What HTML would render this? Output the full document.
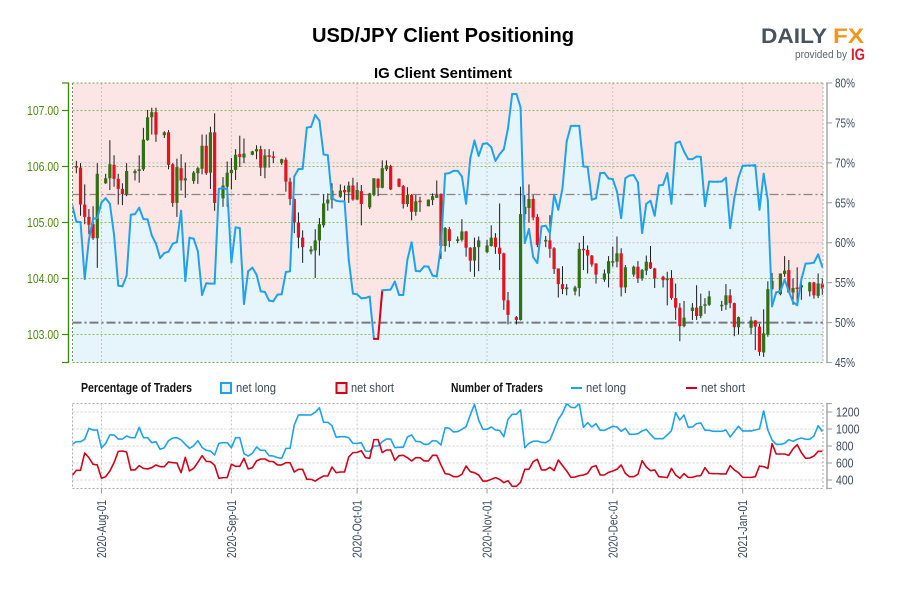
<!DOCTYPE html>
<html lang="en">
<head>
<meta charset="utf-8">
<title>USD/JPY Client Positioning</title>
<style>
html,body{margin:0;padding:0;background:#fff;}
svg{display:block;}
text{font-family:"Liberation Sans",sans-serif;}
.narrow{font-family:"Liberation Sans",sans-serif;}
</style>
</head>
<body>
<svg id="chart" xmlns="http://www.w3.org/2000/svg" width="900" height="600" viewBox="0 0 900 600">
  <defs>
    <clipPath id="mainClip"><rect x="72.5" y="83" width="750.5" height="279.5"/></clipPath>
    <clipPath id="lowerClip"><rect x="72.5" y="403.5" width="750.5" height="85"/></clipPath>
  </defs>
  <text x="443" y="42" text-anchor="middle" font-size="20" font-weight="700" fill="#000" textLength="262" lengthAdjust="spacingAndGlyphs">USD/JPY Client Positioning</text>
  <text x="443" y="78" text-anchor="middle" font-size="15" font-weight="700" fill="#000" textLength="138" lengthAdjust="spacingAndGlyphs">IG Client Sentiment</text>
  <g>
    <text x="761" y="43" font-size="21" font-weight="700" fill="#49525f" textLength="66" lengthAdjust="spacingAndGlyphs">DAILY</text>
    <text x="833" y="43" font-size="21" font-weight="700" fill="#f7941d" textLength="31" lengthAdjust="spacingAndGlyphs">FX</text>
    <text x="795" y="58" font-size="11" fill="#5e6670" textLength="52" lengthAdjust="spacingAndGlyphs">provided by</text>
    <text x="851" y="60" font-size="17" font-weight="700" fill="#e4172b" textLength="14" lengthAdjust="spacingAndGlyphs">IG</text>
  </g>
  <g id="mainPlot"></g>
  <g id="mainAxes"></g>
  <g>
    <text class="narrow" x="81" y="392" font-size="12.5" font-weight="700" fill="#111" textLength="111" lengthAdjust="spacingAndGlyphs">Percentage of Traders</text>
    <rect x="221" y="383" width="10" height="10" fill="#e6f4fc" stroke="#1ea3ea" stroke-width="2"/>
    <text class="narrow" x="236" y="392" font-size="12.5" fill="#3d4a5c" textLength="40" lengthAdjust="spacingAndGlyphs">net long</text>
    <rect x="336.5" y="383" width="10" height="10" fill="#fbe5e5" stroke="#d0021b" stroke-width="2"/>
    <text class="narrow" x="351" y="392" font-size="12.5" fill="#3d4a5c" textLength="43" lengthAdjust="spacingAndGlyphs">net short</text>
    <text class="narrow" x="451" y="392" font-size="12.5" font-weight="700" fill="#111" textLength="92" lengthAdjust="spacingAndGlyphs">Number of Traders</text>
    <line x1="571" y1="388" x2="582" y2="388" stroke="#1ea3ea" stroke-width="2"/>
    <text class="narrow" x="586" y="392" font-size="12.5" fill="#3d4a5c" textLength="40" lengthAdjust="spacingAndGlyphs">net long</text>
    <line x1="686" y1="388" x2="697" y2="388" stroke="#d0021b" stroke-width="2"/>
    <text class="narrow" x="701" y="392" font-size="12.5" fill="#3d4a5c" textLength="44" lengthAdjust="spacingAndGlyphs">net short</text>
  </g>
  <g id="lowerPlot"></g>
  <g id="lowerAxes"></g>
</svg>
<script>
// Category axis: days counted from 2020-07-26
const dateTickDays = [6, 37, 67, 98, 128, 159];
const dateTickLabels = ['2020-Aug-01', '2020-Sep-01', '2020-Oct-01', '2020-Nov-01', '2020-Dec-01', '2021-Jan-01'];
const priceTicks = [107, 106, 105, 104, 103];
const percentTicks = [80, 75, 70, 65, 60, 55, 50, 45];
const countTicks = [1200, 1000, 800, 600, 400];
const percentGuides = [70, 60];
const firstSeriesDay = -1;

const candleDays = [
0,1,2,3,4,5, 7,8,9,10,11,12, 14,15,16,17,18,19, 21,22,23,24,25,26, 28,29,30,31,32,33,
35,36,37,38,39,40, 42,43,44,45,46,47, 49,50,51,52,53,54, 56,57,58,59,60,61, 63,64,65,66,67,68,
70,71,72,73,74,75, 77,78,79,80,81,82, 84,85,86,87,88,89, 91,92,93,94,95,96, 98,99,100,101,102,103,
105,106,107,108,109,110, 112,113,114,115,116,117, 119,120,121,122,123,124, 126,127,128,129,130,131,
133,134,135,136,137,138, 140,141,142,143,144,145, 147,148,149,150,151, 154,155,156,157,158,
161,162,163,164,165,166, 168,169,170,171,172,173, 175,176,177,178];

const opens = [
106.01,105.98,105.32,105.10,104.97,104.72,
105.70,105.79,106.03,105.78,105.60,105.50,
105.88,105.92,105.95,106.47,106.88,106.97,
106.56,106.61,106.04,105.35,105.97,105.75,
105.74,105.88,105.96,106.37,105.89,106.61,
105.43,105.64,105.88,105.94,106.22,106.16,
106.21,106.27,106.31,105.98,106.20,106.18,
106.06,106.12,105.73,105.42,105.00,104.73,
104.48,104.50,104.68,104.95,105.34,105.41,
105.46,105.58,105.54,105.66,105.41,105.56,
105.27,105.49,105.78,105.62,105.95,106.01,
105.78,105.65,105.33,105.49,105.19,105.39,
105.29,105.40,105.44,105.51,104.58,104.88,
104.67,104.69,104.84,104.55,104.32,104.56,
104.47,104.58,104.73,104.55,104.45,103.61,
103.31,103.26,105.15,105.26,105.42,105.10,
104.66,104.68,104.54,104.18,103.90,103.81,
103.77,103.83,104.53,104.51,104.41,104.27,
103.98,104.09,104.30,104.30,104.45,103.84,
104.07,104.21,104.00,104.14,104.29,104.18,
104.03,103.97,104.01,103.65,103.48,103.15,
103.42,103.48,103.33,103.52,103.53,
103.52,103.53,103.70,103.56,103.13,
103.12,103.25,103.14,102.68,103.00,103.81,
103.72,104.08,104.15,103.75,103.84,103.84,
103.77,103.93,103.69,103.91];

const highs = [
106.10,106.06,105.68,105.24,105.29,106.06,
105.87,106.47,106.20,105.87,105.70,106.06,
105.95,106.20,106.69,107.01,107.05,107.05,
106.63,106.65,106.06,106.14,106.22,106.07,
105.92,105.99,106.57,106.57,106.71,106.95,
105.81,106.09,106.15,106.31,106.55,106.50,
106.28,106.38,106.37,106.31,106.31,106.27,
106.14,106.16,105.80,105.43,105.18,104.86,
104.58,104.88,105.08,105.50,105.52,105.70,
105.68,105.66,105.73,105.80,105.72,105.67,
105.53,105.79,105.79,106.11,106.11,106.03,
105.79,105.67,105.63,105.51,105.49,105.46,
105.41,105.52,105.75,105.52,104.92,104.92,
104.75,105.06,104.85,104.56,104.73,104.75,
104.69,104.95,104.81,105.34,104.46,103.76,
103.33,105.64,105.49,105.68,105.49,105.15,
104.76,105.13,104.56,104.18,104.22,103.90,
103.87,104.64,104.76,104.59,104.42,104.27,
104.16,104.40,104.57,104.75,104.54,104.24,
104.23,104.31,104.17,104.41,104.58,104.19,
104.05,104.12,104.15,103.91,103.56,103.60,
103.56,103.88,103.73,103.65,103.78,
103.60,103.90,103.81,103.57,103.32,
103.32,103.26,103.19,103.45,103.95,104.10,
104.09,104.40,104.33,104.00,104.20,104.03,
103.94,103.94,104.09,104.00];

const lows = [
105.88,105.12,104.97,104.79,104.69,104.19,
105.69,105.58,105.64,105.32,105.31,105.47,
105.75,105.71,105.92,106.46,106.57,106.44,
106.51,105.95,105.28,105.10,105.57,105.44,
105.69,105.69,105.86,105.85,105.60,105.21,
105.28,105.28,105.59,105.76,105.99,106.06,
106.20,106.13,105.83,105.79,105.98,106.06,
106.03,105.55,105.31,104.81,104.54,104.28,
104.43,104.01,104.41,104.91,105.21,105.25,
105.44,105.37,105.35,105.39,105.40,104.95,
105.24,105.47,105.47,105.61,105.92,105.58,
105.63,105.25,105.28,105.04,105.12,105.19,
105.29,105.31,105.44,104.35,104.48,104.56,
104.63,104.66,104.39,104.12,104.03,104.13,
104.45,104.57,104.44,104.15,103.44,103.18,
103.18,103.25,105.04,105.00,105.04,104.56,
104.56,104.37,104.08,103.66,103.72,103.70,
103.70,103.68,104.15,104.09,104.21,103.91,
103.94,103.84,104.21,104.20,103.68,103.74,
104.03,103.92,103.96,104.06,104.17,103.83,
103.84,103.52,103.62,103.26,102.88,103.13,
103.26,103.26,103.29,103.37,103.51,
103.42,103.44,103.47,102.97,103.00,
103.00,102.72,102.62,102.60,102.96,103.79,
103.70,104.03,103.74,103.53,103.51,103.62,
103.68,103.64,103.65,103.71];

const closes = [
105.98,105.32,105.10,104.96,104.72,105.87,
105.79,106.04,105.78,105.60,105.51,105.92,
105.92,105.95,106.48,106.88,106.97,106.57,
106.61,106.03,105.35,105.99,105.75,105.79,
105.89,105.97,106.37,105.88,106.61,105.35,
105.66,105.89,105.94,106.21,106.17,106.23,
106.27,106.31,105.98,106.20,106.17,106.16,
106.13,105.73,105.42,105.00,104.73,104.56,
104.52,104.68,104.97,105.34,105.41,105.57,
105.57,105.54,105.66,105.41,105.58,105.33,
105.52,105.79,105.62,105.97,106.02,105.59,
105.64,105.33,105.49,105.19,105.38,105.38,
105.41,105.47,105.49,104.58,104.90,104.67,
104.70,104.84,104.55,104.32,104.56,104.68,
104.59,104.73,104.56,104.44,103.61,103.35,
103.26,105.15,105.28,105.42,105.09,104.60,
104.69,104.53,104.17,103.90,103.81,103.84,
103.84,104.53,104.51,104.41,104.25,104.07,
104.09,104.31,104.31,104.45,103.84,104.20,
104.21,104.00,104.15,104.30,104.18,104.00,
103.97,104.00,103.65,103.48,103.15,103.30,
103.48,103.33,103.51,103.54,103.68,
103.53,103.70,103.56,103.13,103.31,
103.25,103.14,102.69,103.02,103.81,103.96,
104.09,104.14,103.75,103.83,103.83,103.88,
103.93,103.70,103.91,103.82];

// Net-long share of traders, one value per day from firstSeriesDay
const netLongPercent = [
64.75,62.63,62.58,55.46,60.38,63.00,63.08,65.04,65.58,64.88,61.00,54.63,54.54,55.88,63.50,63.58,64.38,62.96,62.92,60.92,
59.88,58.08,58.71,58.88,59.88,60.08,64.00,55.20,60.63,60.50,58.92,53.46,54.92,54.88,54.88,66.75,66.83,66.71,57.54,61.92,
61.83,52.33,56.42,56.88,56.00,53.92,53.83,52.75,52.67,53.50,53.54,56.33,56.42,68.29,69.21,69.25,74.42,74.50,76.00,75.29,
71.04,70.96,65.58,65.25,65.17,65.17,57.88,53.63,53.54,53.04,53.08,53.25,47.96,47.96,54.04,54.08,54.13,55.13,53.46,53.46,
57.88,60.04,56.46,56.42,57.04,57.00,55.88,55.79,59.54,68.63,68.71,69.00,69.00,68.29,64.88,70.58,72.79,70.88,72.38,72.46,
71.96,70.25,71.08,71.71,74.33,78.63,78.63,76.96,59.96,61.71,58.21,57.46,62.04,62.13,61.21,66.00,64.13,66.83,72.67,74.63,
74.63,74.63,69.54,69.50,65.38,65.58,68.71,68.75,68.04,67.96,66.42,63.08,68.08,68.42,68.46,67.54,61.21,64.88,65.25,63.38,
67.17,67.25,68.71,64.88,72.46,72.67,71.42,70.46,70.46,70.79,70.75,64.58,67.67,67.63,67.63,67.67,68.13,61.83,65.58,68.17,
69.63,69.67,69.67,69.71,64.13,68.63,65.29,52.04,53.79,53.92,55.38,53.92,52.58,52.17,55.38,57.38,57.42,57.50,58.54,56.96];

const netLongTraders = [
820,851,851,879,1008,988,988,777,831,930,930,882,882,918,898,898,1020,898,898,839,
851,761,780,863,894,898,871,820,772,804,863,784,749,741,694,831,839,839,780,898,
898,710,682,714,788,749,749,686,682,663,655,772,772,1047,1165,1165,1165,1165,1196,1251,
1079,1079,1039,902,910,910,898,831,831,839,741,737,800,800,851,882,882,780,784,784,
906,930,855,851,820,820,863,859,812,1016,1008,965,969,996,1027,1165,1290,1106,996,996,
1024,988,984,910,1114,1173,1173,1224,780,831,855,859,843,839,871,988,1114,1184,1300,1255,
1251,1300,1020,1075,1024,1063,984,984,1008,1032,1024,973,1008,937,937,945,977,996,937,886,
886,886,930,980,1192,1106,1165,1020,1024,1063,1071,984,984,973,973,973,988,906,969,1032,
977,977,977,988,1000,1212,988,871,820,820,831,875,855,879,894,879,879,918,1039,969];

const netShortTraders = [
451,514,514,718,663,585,577,420,439,506,604,737,741,729,518,518,569,537,530,545,
577,557,557,612,604,600,486,667,506,537,608,686,620,616,573,420,428,428,585,561,
561,655,530,545,624,647,647,620,616,577,577,604,604,494,526,526,408,408,388,420,
447,447,553,486,494,494,671,722,725,745,663,655,875,875,722,753,753,631,686,690,
663,624,663,663,624,624,690,690,577,475,467,439,439,467,565,498,486,459,388,388,
408,428,408,369,392,326,326,373,526,526,616,643,518,518,549,510,635,569,506,431,
435,451,459,478,553,569,459,459,490,506,526,577,478,439,439,467,627,553,510,518,
439,435,428,537,459,420,475,431,431,447,451,545,478,475,475,471,471,569,518,486,
431,431,431,439,565,557,537,827,706,706,706,690,765,816,722,655,659,682,737,737];

const SVG_NS = 'http://www.w3.org/2000/svg';
const LEFT = 72.5, RIGHT = 823;
const MAIN_TOP = 83, MAIN_BOTTOM = 362.5, LOW_TOP = 403.5, LOW_BOTTOM = 488.5;

function xScale(day) { return 76.33 + 4.191 * day; }
function priceY(p) { return 110.5 + (107 - p) * 56; }
function percentY(p) { return MAIN_TOP + (80 - p) * (MAIN_BOTTOM - MAIN_TOP) / 35; }
function countY(v) { return LOW_BOTTOM - (v - 300) * (LOW_BOTTOM - LOW_TOP) / 1000; }
function seriesDay(i) { return firstSeriesDay + i; }

function make(parent, tag, attrs, text) {
  const el = document.createElementNS(SVG_NS, tag);
  for (const k in attrs) el.setAttribute(k, attrs[k]);
  if (text !== undefined) el.textContent = text;
  parent.appendChild(el);
  return el;
}
function pointsFor(values, yFn) {
  return values.map((v, i) => xScale(seriesDay(i)).toFixed(2) + ',' + yFn(v).toFixed(2)).join(' ');
}

const mainPlot = document.getElementById('mainPlot');
const mainAxes = document.getElementById('mainAxes');
const lowerPlot = document.getElementById('lowerPlot');
const lowerAxes = document.getElementById('lowerAxes');

// ---- main plot background ----
const bgShort = make(mainPlot, 'rect', {x: LEFT, y: MAIN_TOP, width: RIGHT - LEFT, height: MAIN_BOTTOM - MAIN_TOP, fill: '#fbe5e5'});



const areaPts = xScale(seriesDay(0)).toFixed(2) + ',' + MAIN_BOTTOM + ' ' + pointsFor(netLongPercent, percentY) + ' ' + xScale(seriesDay(netLongPercent.length - 1)).toFixed(2) + ',' + MAIN_BOTTOM;
const area = make(mainPlot, 'polygon', {points: areaPts, fill: '#e6f4fc', 'clip-path': 'url(#mainClip)'});



// ---- main grid ----
dateTickDays.forEach(function (d) {
  const v = make(mainPlot, 'line', {x1: xScale(d), x2: xScale(d), y1: MAIN_TOP, y2: MAIN_BOTTOM, stroke: '#c4c4c4', 'stroke-width': 1, 'stroke-dasharray': '2 2'});
  
  
});
percentGuides.forEach(function (p) {
  const g = make(mainPlot, 'line', {x1: LEFT, x2: RIGHT, y1: percentY(p), y2: percentY(p), stroke: '#c6bebe', 'stroke-width': 1, 'stroke-dasharray': '2 2'});
  
  
});
priceTicks.forEach(function (p) {
  const g = make(mainPlot, 'line', {x1: LEFT, x2: RIGHT, y1: priceY(p), y2: priceY(p), stroke: '#8fb968', 'stroke-width': 1, 'stroke-dasharray': '2 2'});
  
  
});
const refLine = make(mainPlot, 'line', {x1: LEFT, x2: RIGHT, y1: 194.5, y2: 194.5, stroke: '#8a8486', 'stroke-width': 1.2, 'stroke-dasharray': '9 3 2 3'});


const fiftyLine = make(mainPlot, 'line', {x1: LEFT, x2: RIGHT, y1: percentY(50), y2: percentY(50), stroke: '#77797c', 'stroke-width': 2, 'stroke-dasharray': '9 3 2 3'});



// ---- candles ----
candleDays.forEach(function (d, i) {
  const x = xScale(d);
  const up = closes[i] >= opens[i];
  const wick = make(mainPlot, 'line', {x1: x, x2: x, y1: priceY(highs[i]), y2: priceY(lows[i]), stroke: '#1c1c1c', 'stroke-width': 1});
  
  
  const top = priceY(Math.max(opens[i], closes[i]));
  const bot = priceY(Math.min(opens[i], closes[i]));
  const body = make(mainPlot, 'rect', {x: x - 1.6, y: top, width: 3.2, height: Math.max(bot - top, 1.5), fill: up ? '#336f14' : '#e3141e'});
  
  
});

// ---- sentiment line, red while net long is under 50% ----
for (let i = 0; i < netLongPercent.length - 1; i++) {
  const seg = make(mainPlot, 'line', {
    x1: xScale(seriesDay(i)), y1: percentY(netLongPercent[i]),
    x2: xScale(seriesDay(i + 1)), y2: percentY(netLongPercent[i + 1]),
    stroke: netLongPercent[i] < 50 ? '#d0021b' : '#1ea3ea', 'stroke-width': 2, 'stroke-linecap': 'round', 'clip-path': 'url(#mainClip)'
  });
  
  
}

// ---- main plot frame ----
[[LEFT, MAIN_TOP, RIGHT, MAIN_TOP, '#7ea452'], [LEFT, MAIN_BOTTOM, RIGHT, MAIN_BOTTOM, '#7ea452'], [LEFT, MAIN_TOP, LEFT, MAIN_BOTTOM, '#6f8a58'], [RIGHT, MAIN_TOP, RIGHT, MAIN_BOTTOM, '#b5b5b5']].forEach(function (s) {
  const edge = make(mainPlot, 'line', {x1: s[0], y1: s[1], x2: s[2], y2: s[3], stroke: s[4], 'stroke-width': 1, 'stroke-dasharray': '2 2'});
  
  
});

// ---- left price axis ----
const priceAxis = make(mainAxes, 'line', {x1: 68.5, x2: 68.5, y1: MAIN_TOP - 0.5, y2: MAIN_BOTTOM + 0.5, stroke: '#3f8a0c', 'stroke-width': 1.4});


[MAIN_TOP, MAIN_BOTTOM].forEach(function (y) {
  const cap = make(mainAxes, 'line', {x1: 62, x2: 68.5, y1: y, y2: y, stroke: '#3f8a0c', 'stroke-width': 1.2});
  
  
});
priceTicks.forEach(function (p) {
  const t = make(mainAxes, 'line', {x1: 62, x2: 68.5, y1: priceY(p), y2: priceY(p), stroke: '#3f8a0c', 'stroke-width': 1.2});
  
  
  const l = make(mainAxes, 'text', {x: 27, y: priceY(p) + 4.5, 'font-size': 13, fill: '#4b8a14', textLength: 32, lengthAdjust: 'spacingAndGlyphs', class: 'narrow'}, p.toFixed(2));
  
  
});

// ---- right percent axis ----
const pctAxis = make(mainAxes, 'line', {x1: 827, x2: 827, y1: MAIN_TOP - 0.5, y2: MAIN_BOTTOM + 0.5, stroke: '#a9a9a9', 'stroke-width': 1.5});


percentTicks.forEach(function (p) {
  const t = make(mainAxes, 'line', {x1: 826, x2: 832, y1: percentY(p), y2: percentY(p), stroke: '#a9a9a9', 'stroke-width': 1.2});
  
  
  const l = make(mainAxes, 'text', {x: 835, y: percentY(p) + 4.5, 'font-size': 13, fill: '#3d4a5c', textLength: 20, lengthAdjust: 'spacingAndGlyphs', class: 'narrow'}, p + '%');
  
  
});

// ---- lower plot ----
countTicks.forEach(function (v) {
  const g = make(lowerPlot, 'line', {x1: LEFT, x2: RIGHT, y1: countY(v), y2: countY(v), stroke: '#d0d0d0', 'stroke-width': 1, 'stroke-dasharray': '2 2'});
  
  
});
dateTickDays.forEach(function (d, i) {
  const x = xScale(d);
  const v = make(lowerPlot, 'line', {x1: x, x2: x, y1: LOW_TOP, y2: LOW_BOTTOM, stroke: '#c4c4c4', 'stroke-width': 1, 'stroke-dasharray': '2 2'});
  
  
  const t = make(lowerAxes, 'line', {x1: x, x2: x, y1: LOW_BOTTOM, y2: LOW_BOTTOM + 5, stroke: '#9a9a9a', 'stroke-width': 1});
  
  
  const l = make(lowerAxes, 'text', {x: 0, y: 0, transform: 'translate(' + (x + 4.5) + ',558) rotate(-90)', 'font-size': 13, fill: '#3d4a5c', textLength: 58, lengthAdjust: 'spacingAndGlyphs', class: 'narrow'}, dateTickLabels[i]);
  
  
});
const lowBorder = make(lowerPlot, 'rect', {x: LEFT, y: LOW_TOP, width: RIGHT - LEFT, height: LOW_BOTTOM - LOW_TOP, fill: 'none', stroke: '#a9a9a9', 'stroke-width': 1, 'stroke-dasharray': '2 2'});



const longLine = make(lowerPlot, 'polyline', {points: pointsFor(netLongTraders, countY), fill: 'none', stroke: '#1ea3ea', 'stroke-width': 1.6, 'stroke-linejoin': 'round', 'clip-path': 'url(#lowerClip)'});


const shortLine = make(lowerPlot, 'polyline', {points: pointsFor(netShortTraders, countY), fill: 'none', stroke: '#d0021b', 'stroke-width': 1.6, 'stroke-linejoin': 'round', 'clip-path': 'url(#lowerClip)'});



const countAxis = make(lowerAxes, 'line', {x1: 827, x2: 827, y1: LOW_TOP, y2: LOW_BOTTOM, stroke: '#a9a9a9', 'stroke-width': 1.5});


[LOW_TOP, LOW_BOTTOM].forEach(function (y) {
  const cap = make(lowerAxes, 'line', {x1: 826, x2: 832, y1: y, y2: y, stroke: '#a9a9a9', 'stroke-width': 1.2});
  
  
});
countTicks.forEach(function (v) {
  const t = make(lowerAxes, 'line', {x1: 826, x2: 832, y1: countY(v), y2: countY(v), stroke: '#a9a9a9', 'stroke-width': 1.2});
  
  
  const l = make(lowerAxes, 'text', {x: 836, y: countY(v) + 4.5, 'font-size': 13, fill: '#3d4a5c', textLength: v >= 1000 ? 23.5 : 17.5, lengthAdjust: 'spacingAndGlyphs', class: 'narrow'}, String(v));
  
  
});
</script>
</body>
</html>
